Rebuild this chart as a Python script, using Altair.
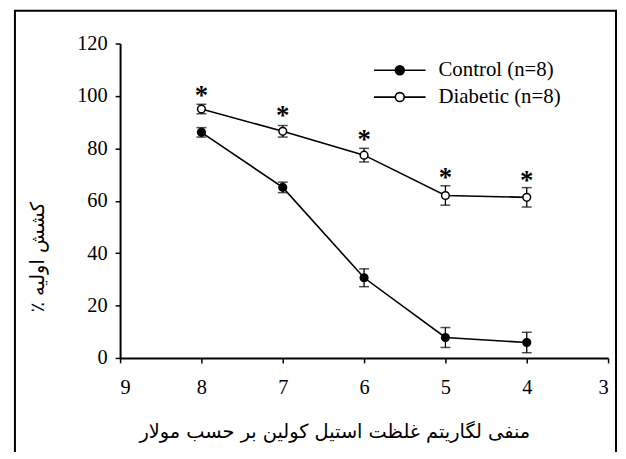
import altair as alt
import pandas as pd

# ---- data ----
log_conc = [8, 7, 6, 5, 4]
control_mean = [86.1, 65.1, 30.6, 7.8, 5.9]
control_sem = [1.8, 2.0, 3.4, 3.8, 3.9]
diabetic_mean = [95.0, 86.5, 77.4, 62.0, 61.3]
diabetic_sem = [1.8, 2.2, 2.6, 3.7, 3.7]
star_y = [102.7, 95.0, 85.9, 71.3, 70.0]
series_names = ["Control (n=8)", "Diabetic (n=8)"]
x_ticks = [9, 8, 7, 6, 5, 4, 3]
y_ticks = [0, 20, 40, 60, 80, 100, 120]

rows = []
for name, means, sems in [(series_names[0], control_mean, control_sem),
                          (series_names[1], diabetic_mean, diabetic_sem)]:
    for x, m, s in zip(log_conc, means, sems):
        rows.append({"series": name, "x": x, "y": m, "lo": m - s, "hi": m + s})
df = pd.DataFrame(rows)
stars = pd.DataFrame({"x": log_conc, "y": star_y, "t": ["*"] * len(log_conc)})

SERIF = "'Liberation Serif', 'Times New Roman', 'DejaVu Serif', serif"

xscale = alt.Scale(domain=[3, 9], reverse=True, nice=False)
yscale = alt.Scale(domain=[0, 120], nice=False)

xax = alt.Axis(values=x_ticks, format="d", title="منفی لگاریتم غلظت استیل کولین بر حسب مولار",
               titleX=216, titleY=74, titleAlign="center", titleBaseline="middle",
               titleFont="DejaVu Sans", titleFontSize=19.5, titleFontWeight="normal",
               labelPadding=15)
yax = alt.Axis(values=y_ticks, format="d", title="٪ کشش اولیه",
               titleX=-83, titleY=215, titleAlign="center", titleBaseline="middle",
               titleFont="DejaVu Sans", titleFontSize=19.5, titleFontWeight="normal",
               labelPadding=8)

base = alt.Chart(df)
X = alt.X("x:Q", scale=xscale, axis=xax)
Y = alt.Y("y:Q", scale=yscale, axis=yax)

lines = base.mark_line(color="black", strokeWidth=1.6).encode(x=X, y=Y, detail="series:N")
rules = base.mark_rule(color="black", strokeWidth=1.3).encode(x="x:Q", y="lo:Q", y2="hi:Q")
cap_lo = base.mark_tick(color="black", orient="horizontal", size=10, thickness=1.5).encode(x="x:Q", y="lo:Q")
cap_hi = base.mark_tick(color="black", orient="horizontal", size=10, thickness=1.5).encode(x="x:Q", y="hi:Q")

legend_path = "M-2.6,0H-0.45M0.45,0H2.6M-0.45,0A0.45,0.45,0,1,1,0.45,0A0.45,0.45,0,1,1,-0.45,0Z"
points = base.mark_point(shape="circle", size=60, stroke="black", strokeWidth=1.5, filled=False, opacity=1).encode(
    x="x:Q", y="y:Q",
    fill=alt.Fill("series:N",
                  scale=alt.Scale(domain=series_names, range=["black", "white"]),
                  legend=alt.Legend(orient="none", legendX=271, legendY=16, title=None,
                                    symbolType=legend_path, symbolSize=400,
                                    symbolStrokeColor="black", symbolStrokeWidth=1.6,
                                    labelFont=SERIF, labelFontSize=21,
                                    labelColor="black", labelOffset=28, rowPadding=6,
                                    padding=0)),
)

star_marks = alt.Chart(stars).mark_text(font=SERIF, fontSize=27, fontWeight="bold",
                                        color="black", baseline="middle", dy=7).encode(
    x="x:Q", y="y:Q", text="t:N")

frame = alt.Chart(alt.Data(values=[{"a": 1}])).mark_rect(
    fill="transparent", stroke="black", strokeWidth=2).encode(
    x=alt.value(-106), x2=alt.value(500), y=alt.value(-33), y2=alt.value(425))

chart = alt.layer(frame, lines, rules, cap_lo, cap_hi, points, star_marks).properties(
    width=492, height=317,
    autosize=alt.AutoSizeParams(type="none"),
    padding={"left": 113, "top": 34, "right": 10, "bottom": 93},
).configure_view(stroke=None).configure_axis(
    grid=False, domainColor="black", domainWidth=2, tickColor="black", tickWidth=1.5,
    tickSize=5, labelFont=SERIF, labelFontSize=20.5, labelColor="black",
    titleColor="black",
)

chart.save("out.html", embed_options={"renderer": "svg", "actions": False})
